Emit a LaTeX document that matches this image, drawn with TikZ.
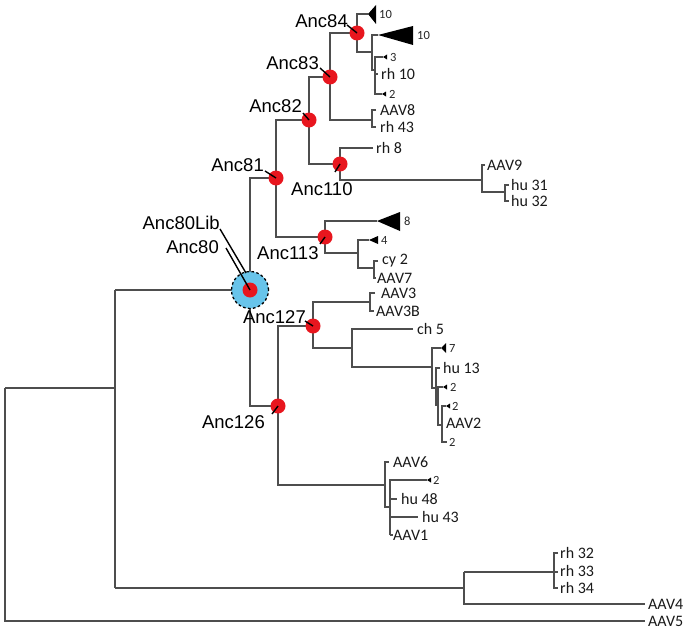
\documentclass[tikz,border=0pt]{standalone}
\usepackage{fontspec}
\setmainfont{Liberation Sans}
\newfontfamily\ancfam{Liberation Sans}
\newfontfamily\leaffam{Carlito}
\definecolor{treegray}{RGB}{78,78,78}
\definecolor{ancred}{RGB}{232,22,30}
\definecolor{ancblue}{RGB}{104,196,234}
\begin{document}
\begin{tikzpicture}[x=1pt,y=-1pt,
  br/.style={draw=treegray,line width=1.2pt},
  tri/.style={fill=black},
  leaf/.style={font=\leaffam\fontsize{16}{18}\selectfont,anchor=west,inner sep=0pt,text=black!90},
  cnt/.style={font=\leaffam\fontsize{12.5}{14}\selectfont,anchor=west,inner sep=0pt,text=black!85},
  anc/.style={font=\ancfam\fontsize{18.5}{20}\selectfont,inner sep=0pt,text=black},
  dot/.style={circle,fill=ancred,minimum size=15pt,inner sep=0pt},
  ptr/.style={draw=black,line width=1.4pt}]
\useasboundingbox (0,0) rectangle (695,634);

% ---------- root and outgroup ----------
\draw[br] (5,388) -- (5,621) -- (645,621);
\draw[br] (5,388) -- (115,388);
\draw[br] (115,290) -- (115,588);
\draw[br] (115,290) -- (250,290);
\draw[br] (115,588) -- (464,588);
\draw[br] (464,572) -- (464,604) -- (645,604);
\draw[br] (464,572) -- (558,572);
\draw[br] (558,553) -| (554,588) -- (558,588);

% ---------- Anc80 backbone ----------
\draw[br] (276,178) -| (250,406) -- (278,406);
% Anc81
\draw[br] (309,120) -| (276,237) -- (325,237);
% Anc82
\draw[br] (330,77) -| (309,164) -- (340,164);
% Anc83
\draw[br] (357,33) -| (330,120) -- (372,120);
\draw[br] (376,110) -| (372,127) -- (376,127);
% Anc84
\draw[br] (368,14) -| (357,52) -- (372,52);
\draw[br] (378,35) -| (372,70) -- (375,70);
\draw[br] (383,57) -| (375,94) -- (382,94);
\draw[br] (375,74) -- (378,74);
% Anc110
\draw[br] (373,148) -| (340,180) -- (482,180);
\draw[br] (485,165) -| (482,192) -- (505,192);
\draw[br] (509,185) -| (505,201) -- (509,201);
% Anc113
\draw[br] (377,221) -| (325,253) -- (358,253);
\draw[br] (369,240) -| (358,268) -- (374,268);
\draw[br] (378,261) -| (374,278) -- (376,278);
% Anc126
\draw[br] (313,326) -| (278,485) -- (385,485);
% Anc127
\draw[br] (370,302) -| (313,348) -- (352,348);
\draw[br] (375,293) -| (370,311) -- (374,311);
\draw[br] (413,329) -| (352,367) -- (432,367);
% AAV2 group
\draw[br] (441,348) -| (432,388) -- (436,388);
\draw[br] (440,368) -| (436,405) -- (438,405);
\draw[br] (443,387) -| (438,425) -- (442,425);
\draw[br] (446,406) -| (442,442) -- (447,442);
% AAV1/AAV6 group
\draw[br] (389,462) -| (385,507) -- (390,507);
\draw[br] (390,535) -- (390,480) -- (427,480);
\draw[br] (390,535) -- (393,535);
\draw[br] (390,499) -- (397,499);
\draw[br] (390,517) -- (418,517);

% ---------- collapsed clades ----------
\fill[tri] (368,14) -- (376,5) -- (376,24) -- cycle;
\fill[tri] (378,35) -- (413,26) -- (413,45) -- cycle;
\fill[tri] (383,57) -- (387,54.5) -- (387,59.5) -- cycle;
\fill[tri] (382,94) -- (386,91.5) -- (386,96.5) -- cycle;
\fill[tri] (377,221) -- (400,212) -- (400,231) -- cycle;
\fill[tri] (369,240) -- (378,236) -- (378,244) -- cycle;
\fill[tri] (441,348) -- (446,343) -- (446,353) -- cycle;
\fill[tri] (443,387) -- (447,384.5) -- (447,389.5) -- cycle;
\fill[tri] (446,406) -- (450,403.5) -- (450,408.5) -- cycle;
\fill[tri] (427,480) -- (431,477.5) -- (431,482.5) -- cycle;

\node[cnt] (n10a) at (379,14) {10};
\node[cnt] (n10b) at (417,35) {10};
\node[cnt] (n3) at (390,57) {3};
\node[cnt] (n2a) at (389,94) {2};
\node[cnt] (n8) at (404,221) {8};
\node[cnt] (n4) at (381,240) {4};
\node[cnt] (n7) at (449,348) {7};
\node[cnt] (n2b) at (450,387) {2};
\node[cnt] (n2c) at (452,406) {2};
\node[cnt] (n2d) at (449,442) {2};
\node[cnt] (n2e) at (433,480) {2};

% ---------- leaf labels ----------
\node[leaf] (aav5) at (648,621) {AAV5};
\node[leaf] (aav4) at (648,604) {AAV4};
\node[leaf] (rh32) at (560,553) {rh 32};
\node[leaf] (rh33) at (560,571) {rh 33};
\node[leaf] (rh34) at (560,588) {rh 34};
\node[leaf] (aav8) at (380,110) {AAV8};
\node[leaf] (rh43) at (380,127) {rh 43};
\node[leaf] (rh10) at (381,74) {rh 10};
\node[leaf] (rh8) at (376,148) {rh 8};
\node[leaf] (aav9) at (487,165) {AAV9};
\node[leaf] (hu31) at (511,185) {hu 31};
\node[leaf] (hu32) at (511,201) {hu 32};
\node[leaf] (cy2) at (382,261) {cy 2};
\node[leaf] (aav7) at (377,278) {AAV7};
\node[leaf] (aav3) at (381,293) {AAV3};
\node[leaf] (aav3b) at (376,311) {AAV3B};
\node[leaf] (ch5) at (417,329) {ch 5};
\node[leaf] (hu13) at (443,368) {hu 13};
\node[leaf] (aav2) at (446,423) {AAV2};
\node[leaf] (aav6) at (393,462) {AAV6};
\node[leaf] (hu48) at (401,499) {hu 48};
\node[leaf] (hu43) at (422,517) {hu 43};
\node[leaf] (aav1) at (393,535) {AAV1};

% ---------- ancestral nodes ----------
\node[circle,fill=ancblue,draw=black,line width=1.3pt,dash pattern=on 2.6pt off 2.4pt,minimum size=37pt,inner sep=0pt] (c80) at (250,290) {};
\node[dot] (d80) at (250,290) {};
\node[dot] (d81) at (276,178) {};
\node[dot] (d82) at (309,120) {};
\node[dot] (d83) at (330,77) {};
\node[dot] (d84) at (357,33) {};
\node[dot] (d110) at (340,164) {};
\node[dot] (d113) at (325,237) {};
\node[dot] (d127) at (313,326) {};
\node[dot] (d126) at (278,406) {};

\node[anc,anchor=east] (l84) at (348,21) {Anc84};
\node[anc,anchor=east] (l83) at (319,63) {Anc83};
\node[anc,anchor=east] (l82) at (302,106) {Anc82};
\node[anc,anchor=east] (l81) at (264,165) {Anc81};
\node[anc,anchor=west] (l110) at (291,189) {Anc110};
\node[anc,anchor=west] (l113) at (257,253) {Anc113};
\node[anc,anchor=east] (l80lib) at (220,223) {Anc80Lib};
\node[anc,anchor=east] (l80) at (219,247) {Anc80};
\node[anc,anchor=east] (l127) at (306,317) {Anc127};
\node[anc,anchor=east] (l126) at (265,422) {Anc126};

\coordinate (p84) at (347,25);
\coordinate (p83) at (320,68);
\coordinate (p82) at (303,113);
\coordinate (p81) at (265,171);
\coordinate (p110) at (335,172);
\coordinate (p113) at (320,244);
\coordinate (p80lib) at (220,229);
\coordinate (e80lib) at (246,273);
\coordinate (p80) at (226,248);
\coordinate (p127) at (305,321);
\coordinate (p126) at (272,414);

\draw[ptr] (p84) -- (d84.center);
\draw[ptr] (p83) -- (d83.center);
\draw[ptr] (p82) -- (d82.center);
\draw[ptr] (p81) -- (d81.center);
\draw[ptr] (p110) -- (d110.center);
\draw[ptr] (p113) -- (d113.center);
\draw[ptr] (p80lib) -- (e80lib);
\draw[ptr] (p80) -- (d80.center);
\draw[ptr] (p127) -- (d127.center);
\draw[ptr] (p126) -- (d126.center);
\end{tikzpicture}
\end{document}
